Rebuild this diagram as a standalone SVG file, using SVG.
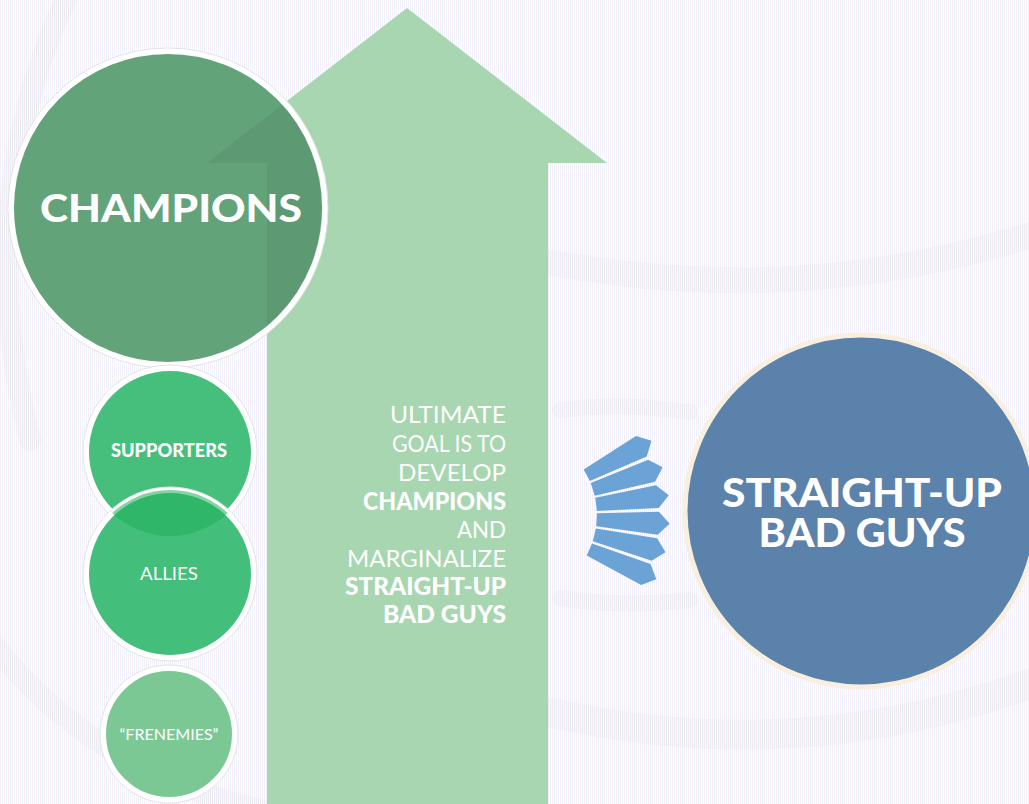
<svg xmlns="http://www.w3.org/2000/svg" width="1029" height="804" viewBox="0 0 1029 804">
  <defs>
    <!-- fine pastel pinstripe backdrop -->
    <pattern id="stripes" width="4" height="8" patternUnits="userSpaceOnUse">
      <rect width="4" height="8" fill="#ffffff"/>
      <rect x="0" width="1" height="8" fill="#f8eef6"/>
      <rect x="2" width="1" height="8" fill="#edf3fb"/>
    </pattern>
    <clipPath id="champClip"><circle cx="168" cy="208" r="155"/></clipPath>
    <clipPath id="alliesClip"><circle cx="170" cy="574" r="84"/></clipPath>
    <!-- one chevron-tipped wedge of the fan, pointing along +x -->
    <polygon id="wedge" points="84.7,-6.6 146.5,-11.5 158,0 146.5,11.5 84.7,6.6"/>
    <style>
      .lbl { font-family: "Lato", "Open Sans", "Liberation Sans", sans-serif; fill: #ffffff; }
      .heavy { font-weight: 900; }
      .medium { font-weight: 400; }
      .light { font-weight: 400; }
      .goal { font-size: 24px; text-anchor: end; }
      .swirl { fill: none; stroke: #8a8a8a; stroke-opacity: 0.05; stroke-linecap: round; }
      .ring { stroke: #ffffff; stroke-width: 6; }
    </style>
  </defs>

  <!-- backdrop -->
  <rect width="1029" height="804" fill="url(#stripes)"/>
  <g id="backdrop-swirls">
    <path class="swirl" stroke-width="26" d="M 548 262 Q 800 310 1040 232"/>
    <path class="swirl" stroke-width="30" d="M 548 712 Q 800 770 1040 680"/>
    <path class="swirl" stroke-width="22" d="M 70 -10 Q -30 200 30 440"/>
    <path class="swirl" stroke-width="22" d="M -10 640 Q 90 770 260 810"/>
    <path class="swirl" stroke-width="16" d="M 560 410 Q 620 402 690 412"/>
    <path class="swirl" stroke-width="16" d="M 560 598 Q 620 608 690 600"/>
  </g>

  <!-- big upward arrow -->
  <g id="goal-arrow">
    <polygon points="407,8 607,163 548,163 548,804 267,804 267,163 207,163" fill="#a7d6b0"/>
    <text class="lbl light goal" x="506" y="423" textLength="116" lengthAdjust="spacingAndGlyphs">ULTIMATE</text>
    <text class="lbl light goal" x="506" y="452" textLength="114" lengthAdjust="spacingAndGlyphs">GOAL IS TO</text>
    <text class="lbl light goal" x="506" y="481" textLength="108" lengthAdjust="spacingAndGlyphs">DEVELOP</text>
    <text class="lbl heavy goal" x="506" y="510" font-size="23" textLength="143" lengthAdjust="spacingAndGlyphs">CHAMPIONS</text>
    <text class="lbl light goal" x="506" y="538" textLength="49" lengthAdjust="spacingAndGlyphs">AND</text>
    <text class="lbl light goal" x="506" y="567" textLength="159" lengthAdjust="spacingAndGlyphs">MARGINALIZE</text>
    <text class="lbl heavy goal" x="506" y="595" font-size="23" textLength="161" lengthAdjust="spacingAndGlyphs">STRAIGHT-UP</text>
    <text class="lbl heavy goal" x="506" y="623" font-size="23" textLength="123" lengthAdjust="spacingAndGlyphs">BAD GUYS</text>
  </g>

  <!-- champions -->
  <g id="champions">
    <circle cx="168" cy="208" r="157" fill="#63a37a" class="ring"/>
    <circle cx="168" cy="208" r="160" fill="none" stroke="#e4e4e4" stroke-width="1"/>
    <polygon clip-path="url(#champClip)" points="407,8 607,163 548,163 548,804 267,804 267,163 207,163" fill="#000000" fill-opacity="0.06"/>
    <text class="lbl heavy" x="171" y="222" font-size="38" text-anchor="middle" textLength="262" lengthAdjust="spacingAndGlyphs">CHAMPIONS</text>
  </g>

  <!-- supporters -->
  <g id="supporters">
    <circle cx="170" cy="452" r="84" fill="#46bf7c" class="ring"/>
    <circle cx="170" cy="452" r="87" fill="none" stroke="#e4e4e4" stroke-width="1"/>
    <text class="lbl heavy" x="169" y="457" font-size="18" text-anchor="middle" textLength="116" lengthAdjust="spacingAndGlyphs">SUPPORTERS</text>
  </g>

  <!-- allies -->
  <g id="allies">
    <circle cx="170" cy="574" r="84" fill="#44be7b" class="ring"/>
    <circle cx="170" cy="574" r="87" fill="none" stroke="#e4e4e4" stroke-width="1"/>
    <circle cx="170" cy="452" r="84" clip-path="url(#alliesClip)" fill="#1fae5a" fill-opacity="0.55"/>
    <text class="lbl medium" x="169" y="580" font-size="18" text-anchor="middle" textLength="58" lengthAdjust="spacingAndGlyphs">ALLIES</text>
  </g>

  <!-- frenemies -->
  <g id="frenemies">
    <circle cx="169" cy="734" r="66" fill="#7cc895" class="ring"/>
    <circle cx="169" cy="734" r="69" fill="none" stroke="#e4e4e4" stroke-width="1"/>
    <text class="lbl light" x="169" y="740" font-size="15" text-anchor="middle" textLength="99" lengthAdjust="spacingAndGlyphs">“FRENEMIES”</text>
  </g>

  <!-- bad guys -->
  <g id="bad-guys">
    <circle cx="861" cy="511" r="176" fill="#5b82ab" stroke="#f8efe1" stroke-width="5"/>
    <text class="lbl heavy" x="862" y="507" font-size="40" text-anchor="middle" textLength="280" lengthAdjust="spacingAndGlyphs">STRAIGHT-UP</text>
    <text class="lbl heavy" x="862" y="547" font-size="40" text-anchor="middle" textLength="207" lengthAdjust="spacingAndGlyphs">BAD GUYS</text>
  </g>

  <!-- fan of pressure arrows aimed at the bad guys -->
  <g id="connectors" fill="#6ca3d7">
    <use href="#wedge" transform="translate(512 515) rotate(-28)"/>
    <use href="#wedge" transform="translate(512 515) rotate(-17.6)"/>
    <use href="#wedge" transform="translate(512 515) rotate(-7.2)"/>
    <use href="#wedge" transform="translate(512 515) rotate(3.2)"/>
    <use href="#wedge" transform="translate(512 515) rotate(13.6)"/>
    <use href="#wedge" transform="translate(512 515) rotate(24)"/>
  </g>
</svg>
